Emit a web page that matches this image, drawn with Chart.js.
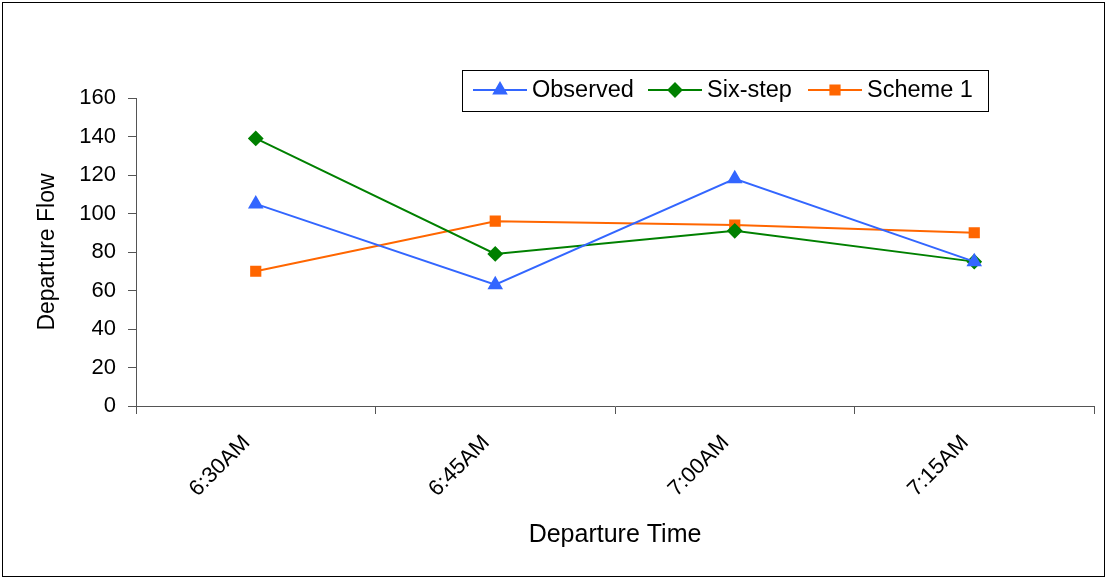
<!DOCTYPE html>
<html>
<head>
<meta charset="utf-8">
<script src="https://cdn.jsdelivr.net/npm/chart.js@4"></script>
<style>
  html, body { margin: 0; padding: 0; background: #fff; }
  #wrap { width: 1107px; height: 579px; }
</style>
</head>
<body>
<div id="wrap"><canvas id="flowChart" width="1107" height="579"></canvas></div>
<script>
// departure times on the x axis
const times = ['6:30AM', '6:45AM', '7:00AM', '7:15AM'];
// series values
const observed = [105, 63, 118, 75];
const sixStep = [139, 79, 91, 75];
const scheme1 = [70, 96, 94, 90];
const yTicks = [0, 20, 40, 60, 80, 100, 120, 140, 160];

const FONT = 'Liberation Sans, Arial, sans-serif';

// draws the framed legend box with line + marker samples
const boxLegend = {
  id: 'boxLegend',
  afterDraw(chart) {
    const ctx = chart.ctx;
    ctx.save();
    ctx.strokeStyle = '#000';
    ctx.lineWidth = 1;
    ctx.strokeRect(462.5, 70.5, 526, 41);
    const starts = [473, 648, 808];
    ctx.font = '23.5px ' + FONT;
    ctx.textBaseline = 'middle';
    chart.data.datasets.forEach((ds, i) => {
      const x = starts[i], y = 90;
      ctx.strokeStyle = ds.borderColor;
      ctx.lineWidth = 2;
      ctx.beginPath();
      ctx.moveTo(x, y);
      ctx.lineTo(x + 54, y);
      ctx.stroke();
      ctx.fillStyle = ds.pointBackgroundColor;
      ctx.strokeStyle = ds.pointBackgroundColor;
      Chart.helpers.drawPoint(ctx, {
        pointStyle: ds.pointStyle, radius: ds.pointRadius, borderWidth: 1
      }, x + 27, y);
      ctx.fillStyle = '#000';
      ctx.fillText(ds.label, x + 59, y + 1);
    });
    // outer frame
    ctx.strokeStyle = '#000';
    ctx.lineWidth = 1;
    ctx.strokeRect(2.5, 2.5, 1102, 574);
    ctx.restore();
  }
};

new Chart(document.getElementById('flowChart'), {
  type: 'line',
  data: {
    labels: times,
    datasets: [
      {
        label: 'Observed', data: observed,
        borderColor: '#3366FF', backgroundColor: '#3366FF',
        pointBackgroundColor: '#3366FF', pointBorderColor: '#3366FF',
        pointStyle: 'triangle', pointRadius: 7, borderWidth: 2
      },
      {
        label: 'Six-step', data: sixStep,
        borderColor: '#008000', backgroundColor: '#008000',
        pointBackgroundColor: '#008000', pointBorderColor: '#008000',
        pointStyle: 'rectRot', pointRadius: 6.5, borderWidth: 2
      },
      {
        label: 'Scheme 1', data: scheme1,
        borderColor: '#FF6600', backgroundColor: '#FF6600',
        pointBackgroundColor: '#FF6600', pointBorderColor: '#FF6600',
        pointStyle: 'rect', pointRadius: 6.5, borderWidth: 2
      }
    ]
  },
  options: {
    responsive: false,
    animation: false,
    layout: { padding: { left: 0, right: 13, top: 98, bottom: 0 } },
    plugins: { legend: { display: false }, tooltip: { enabled: false } },
    scales: {
      x: {
        offset: true,
        afterFit(scale) { scale.height = 173; },
        grid: { offset: true, drawOnChartArea: false, tickLength: 8, color: '#555' },
        border: { display: true, color: '#555', width: 1 },
        ticks: {
          color: '#000', font: { family: FONT, size: 22 },
          minRotation: 45, maxRotation: 45, padding: 16, labelOffset: -9
        },
        title: {
          display: true, text: 'Departure Time', color: '#000',
          font: { family: FONT, size: 25 }, padding: { top: 0, bottom: 29 }
        }
      },
      y: {
        min: 0, max: 160,
        afterFit(scale) { scale.width = 136; },
        afterBuildTicks(scale) { scale.ticks = yTicks.map(v => ({ value: v })); },
        grid: { drawOnChartArea: false, tickLength: 8, color: '#555' },
        border: { display: true, color: '#555', width: 1 },
        ticks: { color: '#000', font: { family: FONT, size: 22 }, padding: 12 },
        title: {
          display: true, text: 'Departure Flow', color: '#000',
          font: { family: FONT, size: 23 }, padding: { top: 34, bottom: 0 }
        }
      }
    }
  },
  plugins: [boxLegend]
});
</script>
</body>
</html>
